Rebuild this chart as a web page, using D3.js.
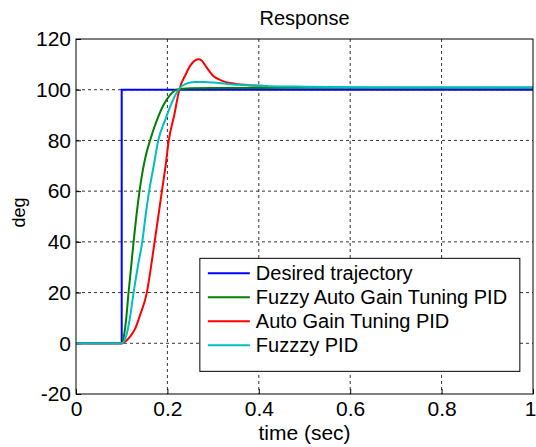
<!DOCTYPE html>
<html>
<head>
<meta charset="utf-8">
<script src="https://cdn.jsdelivr.net/npm/d3@7"></script>
<style>
  body { margin: 0; background: #fff; }
  text { font-family: "Liberation Sans", Arial, sans-serif; fill: #000; }
</style>
</head>
<body>
<div class="canvas"></div>
<script>
// Data
const seriesNames = ['Desired trajectory', 'Fuzzy Auto Gain Tuning PID', 'Auto Gain Tuning PID', 'Fuzzzy PID'];
const seriesColors = ['#0000ff', '#008000', '#ff0000', '#00bfbf'];

const desiredT = [0, 0.1, 0.1, 1];
const desiredY = [0, 0, 100, 100];

const fuzzyAutoT = [0, 0.1, 0.105, 0.11, 0.115, 0.12, 0.126, 0.132, 0.139, 0.145, 0.152, 0.162, 0.175, 0.19, 0.206, 0.22, 0.25, 0.3, 0.4, 0.6, 1.0];
const fuzzyAutoY = [0, 0, 3, 10, 20, 29, 40, 50, 60, 67, 73.5, 80, 87, 93.5, 98, 100, 100.6, 100.7, 100.7, 100.8, 100.8];

const autoT = [0, 0.1, 0.11, 0.12, 0.13, 0.14, 0.155, 0.164, 0.172, 0.18, 0.188, 0.196, 0.203, 0.215, 0.226, 0.24, 0.25, 0.26, 0.268, 0.275, 0.285, 0.3, 0.32, 0.35, 0.38, 0.42];
const autoY = [0, 0, 1, 3, 6, 11, 20, 30, 40, 50, 60, 70, 80, 90, 100, 106, 109.5, 111.5, 112, 111.5, 109, 105.5, 103.5, 102.3, 101.8, 101.5];

const fuzzyT = [0, 0.1, 0.11, 0.118, 0.126, 0.135, 0.145, 0.152, 0.16, 0.17, 0.18, 0.195, 0.21, 0.224, 0.24, 0.26, 0.28, 0.3, 0.33, 0.37, 0.42, 0.5, 0.7, 1.0];
const fuzzyY = [0, 0, 3, 10, 20, 30, 40, 50, 60, 70, 80, 88, 95, 100, 102.3, 103, 103, 102.8, 102.3, 101.8, 101.4, 101.2, 101, 101];

const xTicks = [0, 0.2, 0.4, 0.6, 0.8, 1];
const yTicks = [-20, 0, 20, 40, 60, 80, 100, 120];

const series = [
    {t: desiredT, y: desiredY},
    {t: fuzzyAutoT, y: fuzzyAutoY},
    {t: autoT, y: autoY},
    {t: fuzzyT, y: fuzzyY}
].map((s, i) => ({name: seriesNames[i], color: seriesColors[i], points: s.t.map((t, j) => [t, s.y[j]])}));

// Svg and margins
const width = 536, height = 447;
const margin = {top: 39, right: 3, bottom: 53, left: 76};
const graphWidth = width - margin.left - margin.right;
const graphHeight = height - margin.top - margin.bottom;

const svg = d3.select('.canvas')
    .append('svg')
        .attr('width', width)
        .attr('height', height);

const graph = svg.append('g')
    .attr('transform', `translate(${margin.left}, ${margin.top})`);

const x = d3.scaleLinear().domain([0, 1]).range([0, graphWidth]);
const y = d3.scaleLinear().domain([-20, 120]).range([graphHeight, 0]);

// Grid
graph.append('g')
    .selectAll('line')
    .data(xTicks.slice(1, -1))
    .enter().append('line')
        .attr('x1', d => x(d)).attr('x2', d => x(d))
        .attr('y1', 0).attr('y2', graphHeight)
        .attr('stroke', '#333').attr('stroke-dasharray', '3,3');

graph.append('g')
    .selectAll('line')
    .data(yTicks.slice(1, -1))
    .enter().append('line')
        .attr('x1', 0).attr('x2', graphWidth)
        .attr('y1', d => y(d)).attr('y2', d => y(d))
        .attr('stroke', '#333').attr('stroke-dasharray', '3,3');

// Axes (hyphen minus like matlab)
const xAxis = d3.axisBottom(x).tickValues(xTicks).tickSizeInner(-5).tickSizeOuter(0).tickPadding(7)
    .tickFormat(d => String(d));
const yAxis = d3.axisLeft(y).tickValues(yTicks).tickSizeInner(-5).tickSizeOuter(0).tickPadding(5)
    .tickFormat(d => String(d));

const gx = graph.append('g').attr('transform', `translate(0, ${graphHeight})`).call(xAxis);
const gy = graph.append('g').call(yAxis);
[gx, gy].forEach(g => {
    g.selectAll('text').style('font-size', '21px').style('font-family', '"Liberation Sans", Arial, sans-serif');
    g.select('.domain').remove();
});
// keep the last label inside the window
gx.selectAll('.tick text').filter(d => d === 1).attr('dx', -3);

// Lines
const stepLine = d3.line().x(d => x(d[0])).y(d => y(d[1]));
const smoothLine = d3.line().x(d => x(d[0])).y(d => y(d[1])).curve(d3.curveMonotoneX);
graph.append('g')
    .selectAll('path')
    .data(series)
    .enter().append('path')
        .attr('d', (d, i) => i === 0 ? stepLine(d.points) : smoothLine(d.points))
        .attr('fill', 'none')
        .attr('stroke', d => d.color)
        .attr('stroke-width', 2);

// Box
graph.append('rect')
    .attr('width', graphWidth).attr('height', graphHeight)
    .attr('fill', 'none').attr('stroke', '#000');

// Legend
const legend = graph.append('g').attr('transform', `translate(${x(0.271)}, ${y(33.5)})`);
legend.append('rect')
    .attr('width', 320).attr('height', 113)
    .attr('fill', '#fff').attr('stroke', '#000');
const items = legend.selectAll('g')
    .data(series)
    .enter().append('g')
        .attr('transform', (d, i) => `translate(0, ${15 + i * 24})`);
items.append('line')
    .attr('x1', 8).attr('x2', 50)
    .attr('stroke', d => d.color).attr('stroke-width', 2);
items.append('text')
    .attr('x', 56).attr('dy', '0.35em')
    .style('font-size', '20px')
    .text(d => d.name);

// Titles
svg.append('text')
    .attr('x', margin.left + graphWidth / 2).attr('y', 25)
    .attr('text-anchor', 'middle').style('font-size', '20px')
    .text('Response');
svg.append('text')
    .attr('x', margin.left + graphWidth / 2).attr('y', 440)
    .attr('text-anchor', 'middle').style('font-size', '21px')
    .text('time (sec)');
svg.append('text')
    .attr('transform', `translate(25, ${margin.top + graphHeight / 2 - 4}) rotate(-90)`)
    .attr('text-anchor', 'middle').style('font-size', '18px')
    .text('deg');
</script>
</body>
</html>
